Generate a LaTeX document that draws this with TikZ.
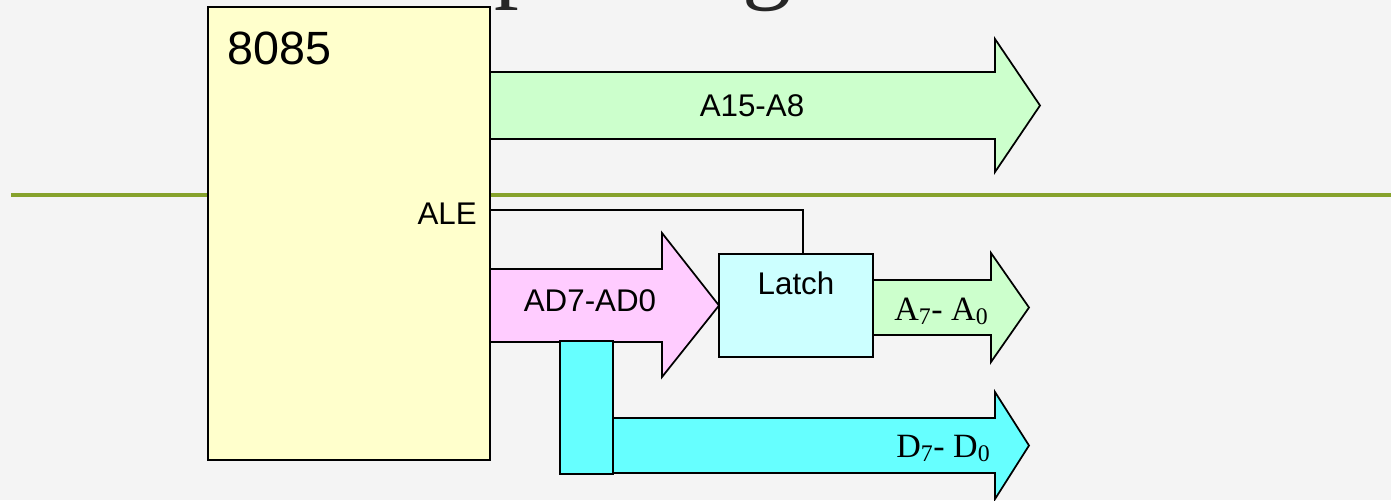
\documentclass[tikz,border=0pt]{standalone}
\usepackage{fontspec}
\setmainfont{Liberation Sans}
\newfontfamily\timesface{Liberation Serif}
\usetikzlibrary{arrows.meta,positioning,calc}
\definecolor{slidebg}{HTML}{F4F4F4}
\definecolor{chipfill}{HTML}{FFFFCC}
\definecolor{busgreen}{HTML}{CCFFCC}
\definecolor{buspink}{HTML}{FFCCFF}
\definecolor{latchfill}{HTML}{CCFFFF}
\definecolor{buscyan}{HTML}{66FFFF}
\definecolor{rulegreen}{HTML}{86A22C}

\begin{document}
\begin{tikzpicture}[x=0.75pt,y=-0.75pt,
  bus/.style={draw=black,line width=1.3pt,line join=miter},
  wire/.style={draw=black,line width=1.1pt},
  lbl/.style={inner sep=0pt,font=\fontsize{23.5}{28}\selectfont},
  sublbl/.style={inner sep=0pt,font=\timesface\fontsize{25.5}{30}\selectfont}]
  % Slide background
  \fill[slidebg] (0,0) rectangle (1391,500);
  \useasboundingbox (0,0) rectangle (1391,500);

  % Title (only the descenders are on the page)
  \begin{scope}
    \clip (0,0) rectangle (1391,500);
    \node[inner sep=0pt,anchor=base west,font=\timesface\fontsize{74}{80}\selectfont,black!85] (tp) at (494,-10.5) {p};
    \node[inner sep=0pt,anchor=base west,font=\timesface\fontsize{74}{80}\selectfont,black!85] (tg) at (742,-10) {g};
  \end{scope}

  % Rule under title
  \draw[rulegreen,line width=2.4pt] (11,195) -- (1391,195);

  % 8085 chip
  \node[draw=black,line width=1.6pt,fill=chipfill,minimum width=211.5pt,minimum height=339.75pt] (cpu) at (349,233.5) {};
  \node[inner sep=0pt,anchor=base west,font=\fontsize{35}{40}\selectfont] (cpuname) at (227,64) {8085};
  \node[lbl,anchor=base east] (ale) at (477,224) {ALE};

  % Upper address bus
  \filldraw[bus,fill=busgreen] (490,72) -- (995,72) -- (995,39) -- (1040,105.5) -- (995,172) -- (995,139) -- (490,139) -- cycle;
  \node[lbl] (hiaddr) at (752,105.5) {A15-A8};

  % Multiplexed bus
  \filldraw[bus,fill=buspink] (490,269) -- (662,269) -- (662,233) -- (719,305.5) -- (662,377) -- (662,342) -- (490,342) -- cycle;
  \node[lbl] (adbus) at (590,300.5) {AD7-AD0};

  % Data bus branch
  \filldraw[bus,fill=buscyan] (560,341) rectangle (613,474);
  \filldraw[bus,fill=buscyan] (613,418) -- (995,418) -- (995,392) -- (1029,445.5) -- (995,499) -- (995,473) -- (613,473) -- cycle;
  \node[sublbl,anchor=base west] (databus) at (896,457) {D\textsubscript{7}- D\textsubscript{0}};

  % Latch
  \node[draw=black,line width=1.3pt,fill=latchfill,minimum width=115.5pt,minimum height=77.25pt] (latch) at (796,305.5) {};
  \node[lbl] (latchname) at (796,283.5) {Latch};
  \filldraw[bus,fill=busgreen] (873,280) -- (991,280) -- (991,253) -- (1029,307.5) -- (991,362) -- (991,335) -- (873,335) -- cycle;
  \node[sublbl,anchor=base west] (loaddr) at (894,320) {A\textsubscript{7}- A\textsubscript{0}};

  % ALE to latch
  \coordinate (alepin) at (490,210);
  \draw[wire] (alepin) -| ([xshift=5.25pt]latch.north);
\end{tikzpicture}
\end{document}
